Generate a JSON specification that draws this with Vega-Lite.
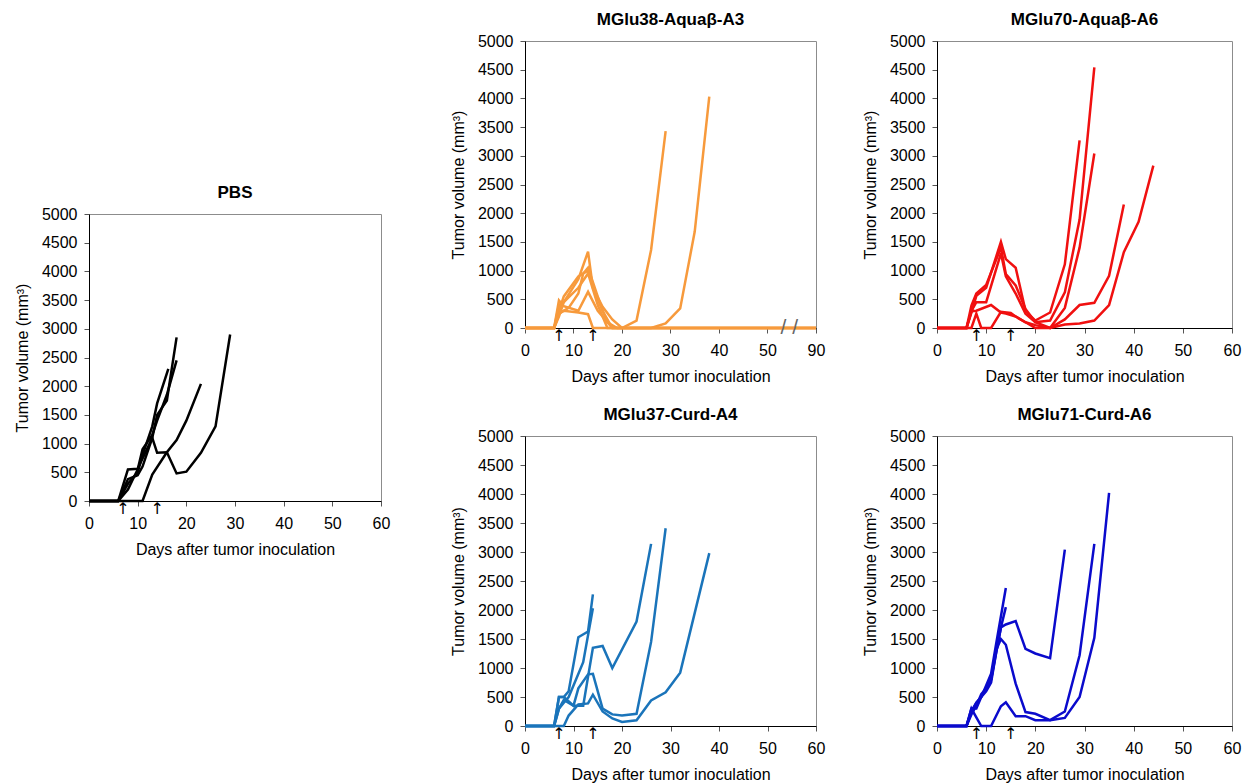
{
"$schema": "https://vega.github.io/schema/vega-lite/v6.json",
"padding": {"left": 13, "top": 10, "right": 0, "bottom": 0},
"datasets": {
"tumor": [
{"g":"PBS","m":1,"d":0,"v":0},{"g":"PBS","m":1,"d":6,"v":0},{"g":"PBS","m":1,"d":8,"v":550},{"g":"PBS","m":1,"d":10,"v":560},{"g":"PBS","m":1,"d":13,"v":1100},{"g":"PBS","m":1,"d":14,"v":840},{"g":"PBS","m":1,"d":16,"v":850},{"g":"PBS","m":1,"d":18,"v":480},{"g":"PBS","m":1,"d":20,"v":510},{"g":"PBS","m":1,"d":23,"v":840},{"g":"PBS","m":1,"d":26,"v":1300},{"g":"PBS","m":1,"d":29,"v":2900},
{"g":"PBS","m":2,"d":0,"v":0},{"g":"PBS","m":2,"d":11,"v":0},{"g":"PBS","m":2,"d":13,"v":460},{"g":"PBS","m":2,"d":16,"v":850},{"g":"PBS","m":2,"d":18,"v":1060},{"g":"PBS","m":2,"d":20,"v":1400},{"g":"PBS","m":2,"d":23,"v":2040},
{"g":"PBS","m":3,"d":0,"v":0},{"g":"PBS","m":3,"d":6,"v":0},{"g":"PBS","m":3,"d":8,"v":380},{"g":"PBS","m":3,"d":10,"v":450},{"g":"PBS","m":3,"d":11,"v":600},{"g":"PBS","m":3,"d":13,"v":1100},{"g":"PBS","m":3,"d":14,"v":1500},{"g":"PBS","m":3,"d":16,"v":1750},{"g":"PBS","m":3,"d":18,"v":2850},
{"g":"PBS","m":4,"d":0,"v":0},{"g":"PBS","m":4,"d":6,"v":0},{"g":"PBS","m":4,"d":8,"v":200},{"g":"PBS","m":4,"d":10,"v":550},{"g":"PBS","m":4,"d":11,"v":900},{"g":"PBS","m":4,"d":13,"v":1150},{"g":"PBS","m":4,"d":14,"v":1400},{"g":"PBS","m":4,"d":16,"v":1850},{"g":"PBS","m":4,"d":18,"v":2450},
{"g":"PBS","m":5,"d":0,"v":0},{"g":"PBS","m":5,"d":6,"v":0},{"g":"PBS","m":5,"d":8,"v":300},{"g":"PBS","m":5,"d":10,"v":500},{"g":"PBS","m":5,"d":11,"v":800},{"g":"PBS","m":5,"d":13,"v":1300},{"g":"PBS","m":5,"d":14,"v":1700},{"g":"PBS","m":5,"d":16.3,"v":2300},

{"g":"A3","m":1,"d":0,"v":0},{"g":"A3","m":1,"d":6,"v":0},{"g":"A3","m":1,"d":7,"v":400},{"g":"A3","m":1,"d":8,"v":450},{"g":"A3","m":1,"d":11,"v":850},{"g":"A3","m":1,"d":13,"v":1330},{"g":"A3","m":1,"d":14,"v":700},{"g":"A3","m":1,"d":16,"v":370},{"g":"A3","m":1,"d":18,"v":150},{"g":"A3","m":1,"d":20,"v":0},{"g":"A3","m":1,"d":23,"v":130},{"g":"A3","m":1,"d":26,"v":1360},{"g":"A3","m":1,"d":29,"v":3430},
{"g":"A3","m":2,"d":0,"v":0},{"g":"A3","m":2,"d":6,"v":0},{"g":"A3","m":2,"d":7,"v":300},{"g":"A3","m":2,"d":8,"v":550},{"g":"A3","m":2,"d":11,"v":900},{"g":"A3","m":2,"d":13,"v":1000},{"g":"A3","m":2,"d":15,"v":500},{"g":"A3","m":2,"d":17,"v":100},{"g":"A3","m":2,"d":19,"v":0},{"g":"A3","m":2,"d":26,"v":0},{"g":"A3","m":2,"d":29,"v":80},{"g":"A3","m":2,"d":32,"v":340},{"g":"A3","m":2,"d":35,"v":1680},{"g":"A3","m":2,"d":38,"v":4030},
{"g":"A3","m":3,"d":0,"v":0},{"g":"A3","m":3,"d":6,"v":0},{"g":"A3","m":3,"d":7,"v":480},{"g":"A3","m":3,"d":8,"v":380},{"g":"A3","m":3,"d":11,"v":300},{"g":"A3","m":3,"d":13,"v":630},{"g":"A3","m":3,"d":15,"v":300},{"g":"A3","m":3,"d":18,"v":0},{"g":"A3","m":3,"d":90,"v":0},
{"g":"A3","m":4,"d":0,"v":0},{"g":"A3","m":4,"d":6,"v":0},{"g":"A3","m":4,"d":7,"v":250},{"g":"A3","m":4,"d":8,"v":300},{"g":"A3","m":4,"d":11,"v":270},{"g":"A3","m":4,"d":13,"v":240},{"g":"A3","m":4,"d":14,"v":0},{"g":"A3","m":4,"d":90,"v":0},
{"g":"A3","m":5,"d":0,"v":0},{"g":"A3","m":5,"d":6,"v":0},{"g":"A3","m":5,"d":7,"v":200},{"g":"A3","m":5,"d":8,"v":450},{"g":"A3","m":5,"d":11,"v":700},{"g":"A3","m":5,"d":13,"v":950},{"g":"A3","m":5,"d":15,"v":400},{"g":"A3","m":5,"d":17,"v":0},{"g":"A3","m":5,"d":90,"v":0},
{"g":"A3","m":6,"d":0,"v":0},{"g":"A3","m":6,"d":6,"v":0},{"g":"A3","m":6,"d":7,"v":250},{"g":"A3","m":6,"d":9,"v":350},{"g":"A3","m":6,"d":11,"v":600},{"g":"A3","m":6,"d":12,"v":950},{"g":"A3","m":6,"d":13,"v":1050},{"g":"A3","m":6,"d":16,"v":300},{"g":"A3","m":6,"d":18,"v":0},{"g":"A3","m":6,"d":90,"v":0},

{"g":"A6","m":1,"d":0,"v":0},{"g":"A6","m":1,"d":6,"v":0},{"g":"A6","m":1,"d":7,"v":390},{"g":"A6","m":1,"d":8,"v":600},{"g":"A6","m":1,"d":10,"v":750},{"g":"A6","m":1,"d":13,"v":1400},{"g":"A6","m":1,"d":14,"v":940},{"g":"A6","m":1,"d":16,"v":740},{"g":"A6","m":1,"d":18,"v":330},{"g":"A6","m":1,"d":20,"v":100},{"g":"A6","m":1,"d":23,"v":130},{"g":"A6","m":1,"d":26,"v":620},{"g":"A6","m":1,"d":29,"v":1890},{"g":"A6","m":1,"d":32,"v":4540},
{"g":"A6","m":2,"d":0,"v":0},{"g":"A6","m":2,"d":6,"v":0},{"g":"A6","m":2,"d":7,"v":270},{"g":"A6","m":2,"d":8,"v":560},{"g":"A6","m":2,"d":10,"v":700},{"g":"A6","m":2,"d":13,"v":1500},{"g":"A6","m":2,"d":14,"v":1200},{"g":"A6","m":2,"d":16,"v":1050},{"g":"A6","m":2,"d":18,"v":300},{"g":"A6","m":2,"d":20,"v":130},{"g":"A6","m":2,"d":23,"v":270},{"g":"A6","m":2,"d":26,"v":1110},{"g":"A6","m":2,"d":29,"v":3270},
{"g":"A6","m":3,"d":0,"v":0},{"g":"A6","m":3,"d":6,"v":0},{"g":"A6","m":3,"d":7,"v":300},{"g":"A6","m":3,"d":8,"v":450},{"g":"A6","m":3,"d":10,"v":450},{"g":"A6","m":3,"d":13,"v":1300},{"g":"A6","m":3,"d":14,"v":900},{"g":"A6","m":3,"d":16,"v":600},{"g":"A6","m":3,"d":18,"v":250},{"g":"A6","m":3,"d":20,"v":100},{"g":"A6","m":3,"d":23,"v":0},{"g":"A6","m":3,"d":26,"v":350},{"g":"A6","m":3,"d":29,"v":1400},{"g":"A6","m":3,"d":32,"v":3040},
{"g":"A6","m":4,"d":0,"v":0},{"g":"A6","m":4,"d":6,"v":0},{"g":"A6","m":4,"d":7,"v":290},{"g":"A6","m":4,"d":8,"v":300},{"g":"A6","m":4,"d":11,"v":400},{"g":"A6","m":4,"d":13,"v":270},{"g":"A6","m":4,"d":14,"v":250},{"g":"A6","m":4,"d":16,"v":200},{"g":"A6","m":4,"d":18,"v":100},{"g":"A6","m":4,"d":20,"v":50},{"g":"A6","m":4,"d":23,"v":0},{"g":"A6","m":4,"d":26,"v":60},{"g":"A6","m":4,"d":29,"v":80},{"g":"A6","m":4,"d":32,"v":130},{"g":"A6","m":4,"d":35,"v":400},{"g":"A6","m":4,"d":38,"v":1320},{"g":"A6","m":4,"d":41,"v":1850},{"g":"A6","m":4,"d":44,"v":2830},
{"g":"A6","m":5,"d":0,"v":0},{"g":"A6","m":5,"d":7,"v":0},{"g":"A6","m":5,"d":8,"v":250},{"g":"A6","m":5,"d":9,"v":0},{"g":"A6","m":5,"d":11,"v":0},{"g":"A6","m":5,"d":13,"v":280},{"g":"A6","m":5,"d":15,"v":260},{"g":"A6","m":5,"d":16,"v":200},{"g":"A6","m":5,"d":18,"v":100},{"g":"A6","m":5,"d":20,"v":0},{"g":"A6","m":5,"d":23,"v":0},{"g":"A6","m":5,"d":26,"v":150},{"g":"A6","m":5,"d":29,"v":400},{"g":"A6","m":5,"d":32,"v":440},{"g":"A6","m":5,"d":35,"v":910},{"g":"A6","m":5,"d":38,"v":2150},

{"g":"C4","m":1,"d":0,"v":0},{"g":"C4","m":1,"d":6,"v":0},{"g":"C4","m":1,"d":7,"v":500},{"g":"C4","m":1,"d":8,"v":500},{"g":"C4","m":1,"d":9,"v":600},{"g":"C4","m":1,"d":11,"v":1530},{"g":"C4","m":1,"d":13,"v":1630},{"g":"C4","m":1,"d":14,"v":2270},
{"g":"C4","m":2,"d":0,"v":0},{"g":"C4","m":2,"d":6,"v":0},{"g":"C4","m":2,"d":7,"v":300},{"g":"C4","m":2,"d":8,"v":400},{"g":"C4","m":2,"d":9,"v":500},{"g":"C4","m":2,"d":10,"v":700},{"g":"C4","m":2,"d":12,"v":1100},{"g":"C4","m":2,"d":14,"v":2030},
{"g":"C4","m":3,"d":0,"v":0},{"g":"C4","m":3,"d":6,"v":0},{"g":"C4","m":3,"d":7,"v":300},{"g":"C4","m":3,"d":8,"v":450},{"g":"C4","m":3,"d":10,"v":350},{"g":"C4","m":3,"d":12,"v":350},{"g":"C4","m":3,"d":14,"v":1350},{"g":"C4","m":3,"d":16,"v":1380},{"g":"C4","m":3,"d":18,"v":1000},{"g":"C4","m":3,"d":23,"v":1800},{"g":"C4","m":3,"d":26,"v":3140},
{"g":"C4","m":4,"d":0,"v":0},{"g":"C4","m":4,"d":6,"v":0},{"g":"C4","m":4,"d":7,"v":500},{"g":"C4","m":4,"d":8,"v":500},{"g":"C4","m":4,"d":10,"v":350},{"g":"C4","m":4,"d":11,"v":650},{"g":"C4","m":4,"d":13,"v":890},{"g":"C4","m":4,"d":14,"v":900},{"g":"C4","m":4,"d":16,"v":300},{"g":"C4","m":4,"d":18,"v":200},{"g":"C4","m":4,"d":20,"v":180},{"g":"C4","m":4,"d":23,"v":210},{"g":"C4","m":4,"d":26,"v":1450},{"g":"C4","m":4,"d":29,"v":3410},
{"g":"C4","m":5,"d":0,"v":0},{"g":"C4","m":5,"d":8,"v":0},{"g":"C4","m":5,"d":9,"v":180},{"g":"C4","m":5,"d":11,"v":370},{"g":"C4","m":5,"d":13,"v":390},{"g":"C4","m":5,"d":14,"v":540},{"g":"C4","m":5,"d":16,"v":250},{"g":"C4","m":5,"d":18,"v":130},{"g":"C4","m":5,"d":20,"v":70},{"g":"C4","m":5,"d":23,"v":100},{"g":"C4","m":5,"d":26,"v":440},{"g":"C4","m":5,"d":29,"v":580},{"g":"C4","m":5,"d":32,"v":920},{"g":"C4","m":5,"d":38,"v":2980},

{"g":"C6","m":1,"d":0,"v":0},{"g":"C6","m":1,"d":6,"v":0},{"g":"C6","m":1,"d":7,"v":300},{"g":"C6","m":1,"d":8,"v":300},{"g":"C6","m":1,"d":9,"v":500},{"g":"C6","m":1,"d":10,"v":700},{"g":"C6","m":1,"d":11,"v":900},{"g":"C6","m":1,"d":12,"v":1400},{"g":"C6","m":1,"d":14,"v":2380},
{"g":"C6","m":2,"d":0,"v":0},{"g":"C6","m":2,"d":6,"v":0},{"g":"C6","m":2,"d":7,"v":200},{"g":"C6","m":2,"d":8,"v":350},{"g":"C6","m":2,"d":9,"v":550},{"g":"C6","m":2,"d":10,"v":650},{"g":"C6","m":2,"d":11,"v":800},{"g":"C6","m":2,"d":13,"v":1700},{"g":"C6","m":2,"d":14,"v":2050},
{"g":"C6","m":3,"d":0,"v":0},{"g":"C6","m":3,"d":6,"v":0},{"g":"C6","m":3,"d":7,"v":250},{"g":"C6","m":3,"d":8,"v":400},{"g":"C6","m":3,"d":10,"v":600},{"g":"C6","m":3,"d":11,"v":750},{"g":"C6","m":3,"d":12,"v":1250},{"g":"C6","m":3,"d":13,"v":1700},{"g":"C6","m":3,"d":14,"v":1750},{"g":"C6","m":3,"d":16,"v":1810},{"g":"C6","m":3,"d":18,"v":1330},{"g":"C6","m":3,"d":20,"v":1250},{"g":"C6","m":3,"d":23,"v":1170},{"g":"C6","m":3,"d":26,"v":3040},
{"g":"C6","m":4,"d":0,"v":0},{"g":"C6","m":4,"d":6,"v":0},{"g":"C6","m":4,"d":7,"v":250},{"g":"C6","m":4,"d":8,"v":400},{"g":"C6","m":4,"d":9,"v":500},{"g":"C6","m":4,"d":11,"v":800},{"g":"C6","m":4,"d":12,"v":1300},{"g":"C6","m":4,"d":13,"v":1500},{"g":"C6","m":4,"d":14,"v":1400},{"g":"C6","m":4,"d":16,"v":730},{"g":"C6","m":4,"d":18,"v":240},{"g":"C6","m":4,"d":20,"v":210},{"g":"C6","m":4,"d":23,"v":100},{"g":"C6","m":4,"d":26,"v":250},{"g":"C6","m":4,"d":29,"v":1220},{"g":"C6","m":4,"d":32,"v":3140},
{"g":"C6","m":5,"d":0,"v":0},{"g":"C6","m":5,"d":6,"v":0},{"g":"C6","m":5,"d":7,"v":300},{"g":"C6","m":5,"d":8,"v":150},{"g":"C6","m":5,"d":9,"v":0},{"g":"C6","m":5,"d":11,"v":0},{"g":"C6","m":5,"d":13,"v":340},{"g":"C6","m":5,"d":14,"v":410},{"g":"C6","m":5,"d":16,"v":170},{"g":"C6","m":5,"d":18,"v":170},{"g":"C6","m":5,"d":20,"v":100},{"g":"C6","m":5,"d":23,"v":100},{"g":"C6","m":5,"d":26,"v":140},{"g":"C6","m":5,"d":29,"v":500},{"g":"C6","m":5,"d":32,"v":1520},{"g":"C6","m":5,"d":35,"v":4020}
],
"arrows": [
{"g":"PBS","d":7,"v":0},{"g":"PBS","d":14,"v":0},{"g":"A3","d":7,"v":0},{"g":"A3","d":14,"v":0},{"g":"A6","d":8,"v":0},{"g":"A6","d":15,"v":0},{"g":"C4","d":7,"v":0},{"g":"C4","d":14,"v":0},{"g":"C6","d":8,"v":0},{"g":"C6","d":15,"v":0}
],
"brk": [{"g":"A3","d":54.5,"v":0}]
},
"spacing": 58,
"hconcat": [
{
"spacing": 0,
"vconcat": [
{"width": 292, "height": 142, "data": {"values": [{}]}, "mark": {"type": "point", "opacity": 0}, "encoding": {}, "view": {"stroke": null}},
{
"width": 292, "height": 287, "title": "PBS",
"encoding": {
 "x": {"field": "d", "type": "quantitative", "scale": {"domain": [0, 60], "nice": false}, "axis": {"values": [0,10,20,30,40,50,60], "title": "Days after tumor inoculation"}},
 "y": {"field": "v", "type": "quantitative", "scale": {"domain": [0, 5000], "nice": false}, "axis": {"values": [0,500,1000,1500,2000,2500,3000,3500,4000,4500,5000], "format": "d", "title": "Tumor volume (mm³)"}}
},
"layer": [
{"data": {"name": "tumor"}, "transform": [{"filter": "datum.g == 'PBS'"}], "mark": {"type": "line", "color": "#000000", "strokeWidth": 2.5}, "encoding": {"detail": {"field": "m"}}},
{"data": {"name": "arrows"}, "transform": [{"filter": "datum.g == 'PBS'"}], "mark": {"type": "text", "text": "↑", "baseline": "top", "dy": 0, "fontSize": 16, "font": "DejaVu Sans", "fill": "#000000"}, "encoding": {}}
]
}
]
},
{
"columns": 2,
"spacing": {"row": 20, "column": 35},
"concat": [
{
"width": 291, "height": 287, "title": "MGlu38-Aquaβ-A3",
"encoding": {
 "x": {"field": "d", "type": "quantitative", "scale": {"domain": [0, 54.5, 90], "range": [0, 264.3, 291], "nice": false}, "axis": {"values": [0,10,20,30,40,50,90], "title": "Days after tumor inoculation"}},
 "y": {"field": "v", "type": "quantitative", "scale": {"domain": [0, 5000], "nice": false}, "axis": {"values": [0,500,1000,1500,2000,2500,3000,3500,4000,4500,5000], "format": "d", "title": "Tumor volume (mm³)"}}
},
"layer": [
{"data": {"name": "tumor"}, "transform": [{"filter": "datum.g == 'A3'"}], "mark": {"type": "line", "color": "#F79A3C", "strokeWidth": 2.5}, "encoding": {"detail": {"field": "m"}}},
{"data": {"name": "arrows"}, "transform": [{"filter": "datum.g == 'A3'"}], "mark": {"type": "text", "text": "↑", "baseline": "top", "dy": 0, "fontSize": 16, "font": "DejaVu Sans", "fill": "#000000"}, "encoding": {}},
{"data": {"name": "brk"}, "mark": {"type": "text", "text": "/ /", "baseline": "middle", "fontSize": 21, "fill": "#666666"}, "encoding": {}}
]
},
{
"width": 295, "height": 287, "title": "MGlu70-Aquaβ-A6",
"encoding": {
 "x": {"field": "d", "type": "quantitative", "scale": {"domain": [0, 60], "nice": false}, "axis": {"values": [0,10,20,30,40,50,60], "title": "Days after tumor inoculation"}},
 "y": {"field": "v", "type": "quantitative", "scale": {"domain": [0, 5000], "nice": false}, "axis": {"values": [0,500,1000,1500,2000,2500,3000,3500,4000,4500,5000], "format": "d", "title": "Tumor volume (mm³)"}}
},
"layer": [
{"data": {"name": "tumor"}, "transform": [{"filter": "datum.g == 'A6'"}], "mark": {"type": "line", "color": "#F01010", "strokeWidth": 2.5}, "encoding": {"detail": {"field": "m"}}},
{"data": {"name": "arrows"}, "transform": [{"filter": "datum.g == 'A6'"}], "mark": {"type": "text", "text": "↑", "baseline": "top", "dy": 0, "fontSize": 16, "font": "DejaVu Sans", "fill": "#000000"}, "encoding": {}}
]
},
{
"width": 291, "height": 290, "title": "MGlu37-Curd-A4",
"encoding": {
 "x": {"field": "d", "type": "quantitative", "scale": {"domain": [0, 60], "nice": false}, "axis": {"values": [0,10,20,30,40,50,60], "title": "Days after tumor inoculation"}},
 "y": {"field": "v", "type": "quantitative", "scale": {"domain": [0, 5000], "nice": false}, "axis": {"values": [0,500,1000,1500,2000,2500,3000,3500,4000,4500,5000], "format": "d", "title": "Tumor volume (mm³)"}}
},
"layer": [
{"data": {"name": "tumor"}, "transform": [{"filter": "datum.g == 'C4'"}], "mark": {"type": "line", "color": "#1A74BA", "strokeWidth": 2.5}, "encoding": {"detail": {"field": "m"}}},
{"data": {"name": "arrows"}, "transform": [{"filter": "datum.g == 'C4'"}], "mark": {"type": "text", "text": "↑", "baseline": "top", "dy": 0, "fontSize": 16, "font": "DejaVu Sans", "fill": "#000000"}, "encoding": {}}
]
},
{
"width": 295, "height": 290, "title": "MGlu71-Curd-A6",
"encoding": {
 "x": {"field": "d", "type": "quantitative", "scale": {"domain": [0, 60], "nice": false}, "axis": {"values": [0,10,20,30,40,50,60], "title": "Days after tumor inoculation"}},
 "y": {"field": "v", "type": "quantitative", "scale": {"domain": [0, 5000], "nice": false}, "axis": {"values": [0,500,1000,1500,2000,2500,3000,3500,4000,4500,5000], "format": "d", "title": "Tumor volume (mm³)"}}
},
"layer": [
{"data": {"name": "tumor"}, "transform": [{"filter": "datum.g == 'C6'"}], "mark": {"type": "line", "color": "#0A0ACC", "strokeWidth": 2.5}, "encoding": {"detail": {"field": "m"}}},
{"data": {"name": "arrows"}, "transform": [{"filter": "datum.g == 'C6'"}], "mark": {"type": "text", "text": "↑", "baseline": "top", "dy": 0, "fontSize": 16, "font": "DejaVu Sans", "fill": "#000000"}, "encoding": {}}
]
}
]
}
],
"config": {
"font": "Liberation Sans",
"background": "#ffffff",
"view": {"stroke": "#8c8c8c", "strokeWidth": 1},
"axis": {"grid": false, "domainColor": "#000000", "domainWidth": 1, "tickColor": "#555555", "tickSize": 5, "labelFontSize": 16, "labelColor": "#000000", "labelFont": "Liberation Sans", "titleFont": "Liberation Sans", "titleFontSize": 16, "titleFontWeight": "normal", "titleColor": "#000000", "labelOverlap": false, "labelFlush": false},
"axisY": {"labelPadding": 7, "titlePadding": 11},
"axisX": {"labelPadding": 9, "titlePadding": 10},
"title": {"fontSize": 17, "fontWeight": "bold", "color": "#000000", "font": "Liberation Sans", "baseline": "alphabetic", "offset": 0}
}
}
